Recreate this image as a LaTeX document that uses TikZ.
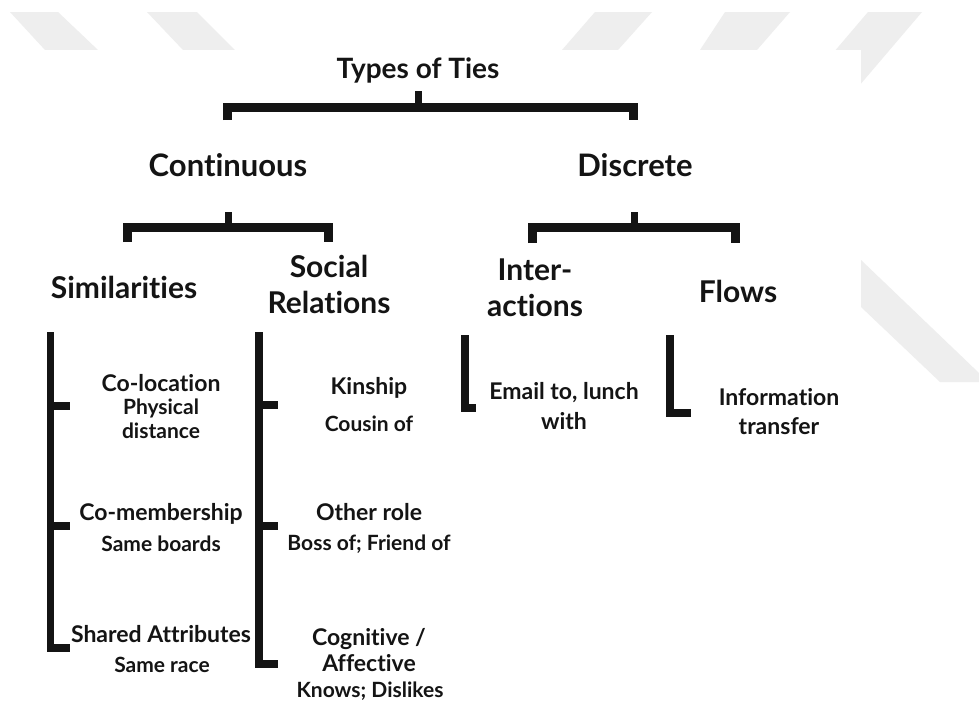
\documentclass[tikz,border=0pt]{standalone}
\usepackage{fontspec}
\setmainfont{Lato}[Ligatures=NoCommon]
\definecolor{ink}{HTML}{141414}
\definecolor{chevrongray}{HTML}{EEEEEE}
\begin{document}
\begin{tikzpicture}[x=1pt,y=-1pt,
  lvlzero/.style={font=\bfseries\fontsize{28}{30}\selectfont, text=ink, inner sep=0pt},
  lvlone/.style={font=\bfseries\fontsize{31}{33}\selectfont, text=ink, inner sep=0pt},
  lvltwo/.style={font=\bfseries\fontsize{30}{36}\selectfont, text=ink, inner sep=0pt, align=center},
  leafmain/.style={font=\bfseries\fontsize{23}{26}\selectfont, text=ink, inner sep=0pt, align=center},
  leafsub/.style={font=\bfseries\fontsize{21}{24}\selectfont, text=ink, inner sep=0pt, align=center},
  bracket/.style={draw=ink, line width=9pt, line join=miter},
  stem/.style={draw=ink, line width=7pt},
  rail/.style={draw=ink, line width=7.5pt, line join=miter},
  chevron/.style={fill=chevrongray}]
\useasboundingbox (0,0) rectangle (979,710);
\fill[white] (0,0) rectangle (979,710);

% light chevrons behind the sheet
\path[chevron] (10,12) -- (58,12) -- (98,50) -- (45,50) -- cycle;
\path[chevron] (147,12) -- (197,12) -- (235,50) -- (183,50) -- cycle;
\path[chevron] (595,12) -- (652,12) -- (618,50) -- (562,50) -- cycle;
\path[chevron] (725,12) -- (790,12) -- (757,50) -- (700,50) -- cycle;
\path[chevron] (868,12) -- (922,12) -- (830,120) -- (776,120) -- cycle;
\path[chevron] (861,260) -- (979,373) -- (979,382) -- (940,382) -- (861,307) -- cycle;

% the sheet itself
\fill[white] (40,50) rectangle (861,710);

% headings
\node[lvlzero] (ties) at (418,70) {Types of Ties};
\node[lvlone] (cont) at (228,165) {Continuous};
\node[lvlone] (disc) at (635,165) {Discrete};
\node[lvltwo] (sim) at (124,287) {Similarities};
\node[lvltwo] (soc) at (329,284) {Social\\Relations};
\node[lvltwo] (inter) at (535,288) {Inter-\\actions};
\node[lvltwo] (flows) at (738,291) {Flows};

% leaves
\node[leafmain] (coloc) at (161,383) {Co-location};
\node[leafsub] (colocs) at (161,419) {Physical\\distance};
\node[leafmain] (comem) at (161,514) {Co-membership};
\node[leafsub] (comems) at (161,544) {Same boards};
\node[leafmain] (shared) at (161,634) {Shared Attributes};
\node[leafsub] (shareds) at (162,665) {Same race};

\node[leafmain] (kin) at (369,388) {Kinship};
\node[leafsub] (kins) at (369,424) {Cousin of};
\node[leafmain] (other) at (369,512) {Other role};
\node[leafsub] (others) at (369,544) {Boss of; Friend of};
\node[leafmain] (cog) at (369,650) {Cognitive /\\Affective};
\node[leafsub] (cogs) at (370,691) {Knows; Dislikes};

\node[leafmain, font=\bfseries\fontsize{23}{30}\selectfont] (email) at (564,406) {Email to, lunch\\with};
\node[leafmain, font=\bfseries\fontsize{23}{29}\selectfont] (info) at (779,412) {Information\\transfer};

% bracket corners
\coordinate (tS) at (418,91);  \coordinate (tM) at (418,107);
\coordinate (tL) at (227,107); \coordinate (tR) at (633,107);
\coordinate (tLe) at (227,120); \coordinate (tRe) at (633,120);

\coordinate (cS) at (228,212); \coordinate (cM) at (228,227);
\coordinate (cL) at (127,227); \coordinate (cR) at (328,227);
\coordinate (cLe) at (127,242); \coordinate (cRe) at (328,242);

\coordinate (dS) at (634,212); \coordinate (dM) at (634,227);
\coordinate (dL) at (532,227); \coordinate (dR) at (735,227);
\coordinate (dLe) at (532,243); \coordinate (dRe) at (735,243);

\coordinate (sT) at (50.5,332); \coordinate (sB) at (50.5,648); \coordinate (sF) at (70,648);
\coordinate (sA) at (50.5,406); \coordinate (sAe) at (70,406);
\coordinate (sC) at (50.5,526); \coordinate (sCe) at (70,526);

\coordinate (rT) at (259,332); \coordinate (rB) at (259,664); \coordinate (rF) at (278,664);
\coordinate (rA) at (259,405); \coordinate (rAe) at (278,405);
\coordinate (rC) at (259,526); \coordinate (rCe) at (278,526);

\coordinate (iT) at (465,335); \coordinate (iB) at (465,408); \coordinate (iF) at (476,408);
\coordinate (fT) at (670,335); \coordinate (fB) at (670,413); \coordinate (fF) at (691,413);

% Types of Ties -> Continuous / Discrete
\draw[stem] (tS) -- (tM);
\draw[bracket] (tLe) -- (tL) -- (tR) -- (tRe);
% Continuous -> Similarities / Social Relations
\draw[stem] (cS) -- (cM);
\draw[bracket] (cLe) -- (cL) -- (cR) -- (cRe);
% Discrete -> Interactions / Flows
\draw[stem] (dS) -- (dM);
\draw[bracket] (dLe) -- (dL) -- (dR) -- (dRe);

% leaf rails
\draw[rail] (sT) -- (sB) -- (sF);
\draw[rail] (sA) -- (sAe);
\draw[rail] (sC) -- (sCe);
\draw[rail] (rT) -- (rB) -- (rF);
\draw[rail] (rA) -- (rAe);
\draw[rail] (rC) -- (rCe);
\draw[rail] (iT) -- (iB) -- (iF);
\draw[rail] (fT) -- (fB) -- (fF);
\end{tikzpicture}
\end{document}
